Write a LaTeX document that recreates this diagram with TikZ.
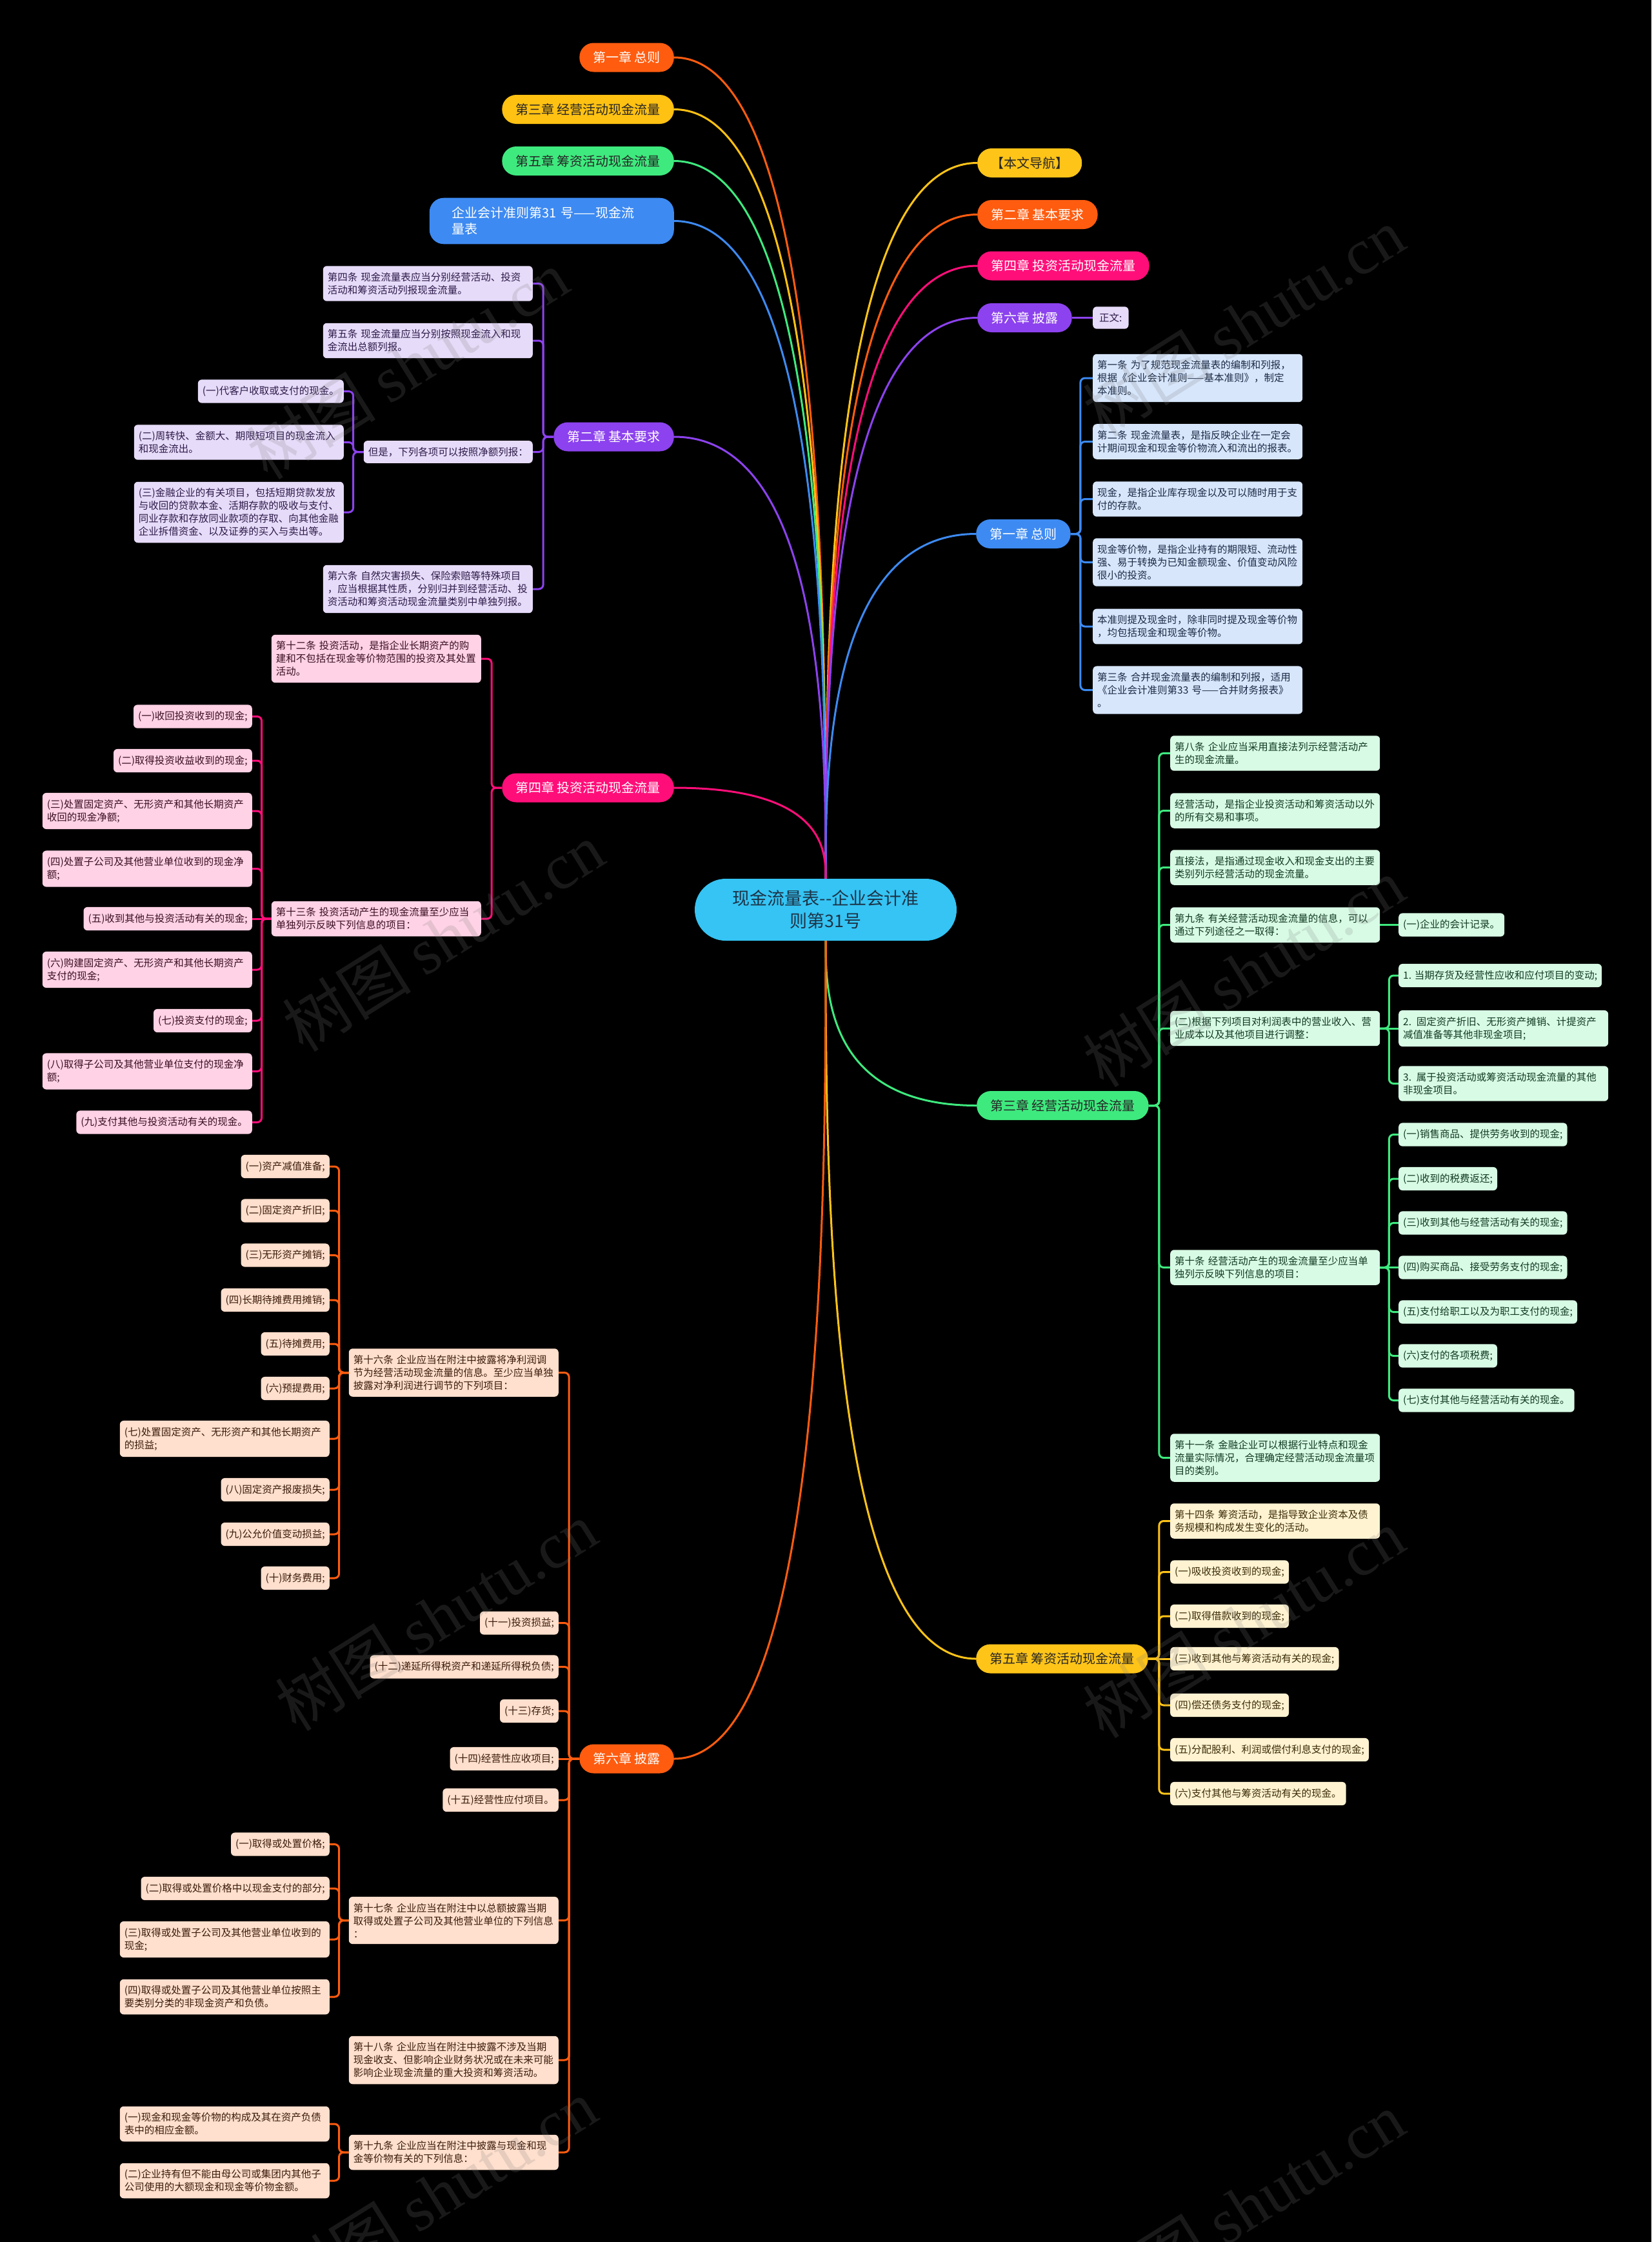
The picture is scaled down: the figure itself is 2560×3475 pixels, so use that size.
\documentclass[tikz,border=0pt]{standalone}
\usepackage{fontspec}
\setmainfont{Noto Sans CJK SC}
\newfontfamily\wmlatin{Liberation Serif}
\usetikzlibrary{calc}
\pgfdeclarelayer{bgl}
\pgfdeclarelayer{lnl}
\pgfsetlayers{bgl,lnl,main}
\definecolor{cOr}{HTML}{FF5C0F}
\definecolor{cAm}{HTML}{FFC112}
\definecolor{cGr}{HTML}{3EEA7E}
\definecolor{cBl}{HTML}{3D8AF2}
\definecolor{cYe}{HTML}{FFC418}
\definecolor{cPk}{HTML}{FF0E79}
\definecolor{cPu}{HTML}{8C42EE}
\definecolor{cRoot}{HTML}{35C4F4}
\definecolor{cRootT}{HTML}{1D3346}
\definecolor{lBl}{HTML}{D7E6FB}
\definecolor{lPu}{HTML}{E6DBF8}
\definecolor{lPk}{HTML}{FFD2E5}
\definecolor{lGr}{HTML}{D8FBE5}
\definecolor{lYe}{HTML}{FFF3D2}
\definecolor{lOr}{HTML}{FFDFCD}
\definecolor{tBl}{HTML}{1C2B45}
\definecolor{tPu}{HTML}{2D1B4A}
\definecolor{tPk}{HTML}{3B0F22}
\definecolor{tGr}{HTML}{123A22}
\definecolor{tYe}{HTML}{3B2C06}
\definecolor{tOr}{HTML}{3B1B0B}
\definecolor{tDark}{HTML}{262626}
\tikzset{
  chap/.style={rounded corners=22pt, inner xsep=21pt, inner ysep=0pt, minimum height=45pt, font=\fontsize{20}{24}\selectfont},
  leaf/.style={rounded corners=6pt, inner xsep=7pt, inner ysep=10pt, minimum height=34pt, font=\fontsize{15.5}{20}\selectfont, align=left},
  multi/.style={text width=311pt},
  lbl/.style={leaf, fill=lBl, text=tBl},
  lpu/.style={leaf, fill=lPu, text=tPu},
  lpk/.style={leaf, fill=lPk, text=tPk},
  lgr/.style={leaf, fill=lGr, text=tGr},
  lye/.style={leaf, fill=lYe, text=tYe},
  lor/.style={leaf, fill=lOr, text=tOr},
  rootbox/.style={fill=cRoot, text=cRootT, rounded corners=48pt, minimum width=406pt, minimum height=96pt, align=center, font=\fontsize{27}{35}\selectfont, inner sep=0pt},
  topblue/.style={fill=cBl, text=white, rounded corners=22pt, text width=309pt, inner xsep=35pt, inner ysep=14pt, align=left, font=\fontsize{20}{25}\selectfont},
  rl/.style={line width=3pt},
  kl/.style={line width=3pt, rounded corners=7pt},
  wm/.style={rotate=32, font=\fontsize{100}{100}\selectfont, text=gray, opacity=0.2},
}
\newcommand{\rlk}[3]{\draw[rl,draw=#1] (#2) .. controls (#2 -| #3) and ($(#3)!0.3!(#2 -| #3)$) .. (#3);}
\newcommand{\kL}[4]{\foreach \kid in {#4}{\draw[kl,draw=#1] (#2.west) -- ++(-#3,0) |- (\kid.east);}}
\newcommand{\kR}[4]{\foreach \kid in {#4}{\draw[kl,draw=#1] (#2.east) -- ++(#3,0) |- (\kid.west);}}
\begin{document}
\begin{tikzpicture}[x=1pt,y=-1pt]
\begin{pgfonlayer}{bgl}
\fill[black] (0,0) rectangle (2560,3475);
\end{pgfonlayer}
\useasboundingbox (0,0) rectangle (2560,3475);

% root
\node[rootbox] (R) at (1280,1410) {现金流量表-{}-企业会计准\\则第31号};

% top-left
\node[chap, fill=cOr, text=white, anchor=east] (t1) at (1045,89) {第一章 总则};
\node[chap, fill=cAm, text=tDark, anchor=east] (t3) at (1045,169.5) {第三章 经营活动现金流量};
\node[chap, fill=cGr, text=tDark, anchor=east] (t5) at (1045,249.5) {第五章 筹资活动现金流量};
\node[topblue, anchor=east] (tq) at (1045,342.5) {企业会计准则第31 号——现金流\\量表};
% top-right
\node[chap, fill=cYe, text=tDark, anchor=west] (tn) at (1515,252.5) {【本文导航】};
\node[chap, fill=cOr, text=white, anchor=west] (t2) at (1515,332.5) {第二章 基本要求};
\node[chap, fill=cPk, text=white, anchor=west] (t4) at (1515,412) {第四章 投资活动现金流量};
\node[chap, fill=cPu, text=white, anchor=west] (t6) at (1515,492.5) {第六章 披露};
\node[lpu, anchor=west, inner xsep=10pt] (zw) at (1694,492.5) {正文:};

% branch nodes
\node[chap, fill=cBl, text=white, anchor=west] (B1) at (1513,827.5) {第一章 总则};
\node[chap, fill=cPu, text=white, anchor=east] (B2) at (1045,677) {第二章 基本要求};
\node[chap, fill=cPk, text=white, anchor=east] (B4) at (1045,1221) {第四章 投资活动现金流量};
\node[chap, fill=cGr, text=tDark, anchor=west] (B3) at (1514,1713.5) {第三章 经营活动现金流量};
\node[chap, fill=cYe, text=tDark, anchor=west] (B5) at (1513,2571) {第五章 筹资活动现金流量};
\node[chap, fill=cOr, text=white, anchor=east] (B6) at (1045,2726) {第六章 披露};

% chapter 1 children
\node[lbl, multi, anchor=west] (a1) at (1694,586) {第一条 为了规范现金流量表的编制和列报，\\根据《企业会计准则——基本准则》，制定\\本准则。};
\node[lbl, multi, anchor=west] (a2) at (1694,684.5) {第二条 现金流量表，是指反映企业在一定会\\计期间现金和现金等价物流入和流出的报表。};
\node[lbl, multi, anchor=west] (a3) at (1694,773.5) {现金，是指企业库存现金以及可以随时用于支\\付的存款。};
\node[lbl, multi, anchor=west] (a4) at (1694,871.5) {现金等价物，是指企业持有的期限短、流动性\\强、易于转换为已知金额现金、价值变动风险\\很小的投资。};
\node[lbl, multi, anchor=west] (a5) at (1694,971) {本准则提及现金时，除非同时提及现金等价物\\，均包括现金和现金等价物。};
\node[lbl, multi, anchor=west] (a6) at (1694,1069.5) {第三条 合并现金流量表的编制和列报，适用\\《企业会计准则第33 号——合并财务报表》\\。};

% chapter 2 children
\node[lpu, multi, anchor=east] (b1) at (826,439.5) {第四条 现金流量表应当分别经营活动、投资\\活动和筹资活动列报现金流量。};
\node[lpu, multi, anchor=east] (b2) at (826,528) {第五条 现金流量应当分别按照现金流入和现\\金流出总额列报。};
\node[lpu, anchor=east] (b3) at (826,700.5) {但是，下列各项可以按照净额列报：};
\node[lpu, anchor=east] (b31) at (533,606.5) {(一)代客户收取或支付的现金。};
\node[lpu, multi, anchor=east] (b32) at (533,685.5) {(二)周转快、金额大、期限短项目的现金流入\\和现金流出。};
\node[lpu, multi, anchor=east] (b33) at (533,794) {(三)金融企业的有关项目，包括短期贷款发放\\与收回的贷款本金、活期存款的吸收与支付、\\同业存款和存放同业款项的存取、向其他金融\\企业拆借资金、以及证券的买入与卖出等。};
\node[lpu, multi, anchor=east] (b4) at (826,913) {第六条 自然灾害损失、保险索赔等特殊项目\\，应当根据其性质，分别归并到经营活动、投\\资活动和筹资活动现金流量类别中单独列报。};

% chapter 4 children
\node[lpk, multi, anchor=east] (d1) at (746,1021) {第十二条 投资活动，是指企业长期资产的购\\建和不包括在现金等价物范围的投资及其处置\\活动。};
\node[lpk, multi, anchor=east] (d2) at (746,1424) {第十三条 投资活动产生的现金流量至少应当\\单独列示反映下列信息的项目：};
\node[lpk, anchor=east] (e1) at (391,1110.5) {(一)收回投资收到的现金;};
\node[lpk, anchor=east] (e2) at (391,1179) {(二)取得投资收益收到的现金;};
\node[lpk, multi, anchor=east] (e3) at (391,1257) {(三)处置固定资产、无形资产和其他长期资产\\收回的现金净额;};
\node[lpk, multi, anchor=east] (e4) at (391,1346.5) {(四)处置子公司及其他营业单位收到的现金净\\额;};
\node[lpk, anchor=east] (e5) at (391,1424) {(五)收到其他与投资活动有关的现金;};
\node[lpk, multi, anchor=east] (e6) at (391,1503) {(六)购建固定资产、无形资产和其他长期资产\\支付的现金;};
\node[lpk, anchor=east] (e7) at (391,1582) {(七)投资支付的现金;};
\node[lpk, multi, anchor=east] (e8) at (391,1660.5) {(八)取得子公司及其他营业单位支付的现金净\\额;};
\node[lpk, anchor=east] (e9) at (391,1739.5) {(九)支付其他与投资活动有关的现金。};

% chapter 3 children
\node[lgr, multi, anchor=west] (g1) at (1814,1167.5) {第八条 企业应当采用直接法列示经营活动产\\生的现金流量。};
\node[lgr, multi, anchor=west] (g2) at (1814,1256.5) {经营活动，是指企业投资活动和筹资活动以外\\的所有交易和事项。};
\node[lgr, multi, anchor=west] (g3) at (1814,1344.5) {直接法，是指通过现金收入和现金支出的主要\\类别列示经营活动的现金流量。};
\node[lgr, multi, anchor=west] (g4) at (1814,1433.5) {第九条 有关经营活动现金流量的信息，可以\\通过下列途径之一取得：};
\node[lgr, anchor=west] (g41) at (2168,1433.5) {(一)企业的会计记录。};
\node[lgr, multi, anchor=west] (g5) at (1814,1594) {(二)根据下列项目对利润表中的营业收入、营\\业成本以及其他项目进行调整：};
\node[lgr, anchor=west] (g51) at (2168,1512) {1. 当期存货及经营性应收和应付项目的变动;};
\node[lgr, multi, anchor=west] (g52) at (2168,1594) {2. 固定资产折旧、无形资产摊销、计提资产\\减值准备等其他非现金项目;};
\node[lgr, multi, anchor=west] (g53) at (2168,1679.5) {3. 属于投资活动或筹资活动现金流量的其他\\非现金项目。};
\node[lgr, multi, anchor=west] (g6) at (1814,1964.5) {第十条 经营活动产生的现金流量至少应当单\\独列示反映下列信息的项目：};
\node[lgr, anchor=west] (h1) at (2168,1758.5) {(一)销售商品、提供劳务收到的现金;};
\node[lgr, anchor=west] (h2) at (2168,1827) {(二)收到的税费返还;};
\node[lgr, anchor=west] (h3) at (2168,1895.5) {(三)收到其他与经营活动有关的现金;};
\node[lgr, anchor=west] (h4) at (2168,1964.5) {(四)购买商品、接受劳务支付的现金;};
\node[lgr, anchor=west] (h5) at (2168,2033.5) {(五)支付给职工以及为职工支付的现金;};
\node[lgr, anchor=west] (h6) at (2168,2101.5) {(六)支付的各项税费;};
\node[lgr, anchor=west] (h7) at (2168,2170.5) {(七)支付其他与经营活动有关的现金。};
\node[lgr, multi, anchor=west] (g7) at (1814,2259.5) {第十一条 金融企业可以根据行业特点和现金\\流量实际情况，合理确定经营活动现金流量项\\目的类别。};

% chapter 5 children
\node[lye, multi, anchor=west] (k1) at (1814,2357.5) {第十四条 筹资活动，是指导致企业资本及债\\务规模和构成发生变化的活动。};
\node[lye, anchor=west] (k2) at (1814,2436.5) {(一)吸收投资收到的现金;};
\node[lye, anchor=west] (k3) at (1814,2505) {(二)取得借款收到的现金;};
\node[lye, anchor=west] (k4) at (1814,2571) {(三)收到其他与筹资活动有关的现金;};
\node[lye, anchor=west] (k5) at (1814,2643) {(四)偿还债务支付的现金;};
\node[lye, anchor=west] (k6) at (1814,2712) {(五)分配股利、利润或偿付利息支付的现金;};
\node[lye, anchor=west] (k7) at (1814,2780) {(六)支付其他与筹资活动有关的现金。};

% chapter 6 children
\node[lor, multi, anchor=east] (m1) at (866,2127.5) {第十六条 企业应当在附注中披露将净利润调\\节为经营活动现金流量的信息。至少应当单独\\披露对净利润进行调节的下列项目：};
\node[lor, anchor=east] (n1) at (511,1808) {(一)资产减值准备;};
\node[lor, anchor=east] (n2) at (511,1876.5) {(二)固定资产折旧;};
\node[lor, anchor=east] (n3) at (511,1945.5) {(三)无形资产摊销;};
\node[lor, anchor=east] (n4) at (511,2015) {(四)长期待摊费用摊销;};
\node[lor, anchor=east] (n5) at (511,2083) {(五)待摊费用;};
\node[lor, anchor=east] (n6) at (511,2152) {(六)预提费用;};
\node[lor, multi, anchor=east] (n7) at (511,2230) {(七)处置固定资产、无形资产和其他长期资产\\的损益;};
\node[lor, anchor=east] (n8) at (511,2309) {(八)固定资产报废损失;};
\node[lor, anchor=east] (n9) at (511,2378) {(九)公允价值变动损益;};
\node[lor, anchor=east] (n10) at (511,2446) {(十)财务费用;};
\node[lor, anchor=east] (m2) at (866,2515.5) {(十一)投资损益;};
\node[lor, anchor=east] (m3) at (866,2583.5) {(十二)递延所得税资产和递延所得税负债;};
\node[lor, anchor=east] (m4) at (866,2652) {(十三)存货;};
\node[lor, anchor=east] (m5) at (866,2726) {(十四)经营性应收项目;};
\node[lor, anchor=east] (m6) at (866,2790) {(十五)经营性应付项目。};
\node[lor, multi, anchor=east] (m7) at (866,2976.5) {第十七条 企业应当在附注中以总额披露当期\\取得或处置子公司及其他营业单位的下列信息\\：};
\node[lor, anchor=east] (p1) at (511,2858.5) {(一)取得或处置价格;};
\node[lor, anchor=east] (p2) at (511,2927) {(二)取得或处置价格中以现金支付的部分;};
\node[lor, multi, anchor=east] (p3) at (511,3006) {(三)取得或处置子公司及其他营业单位收到的\\现金;};
\node[lor, multi, anchor=east] (p4) at (511,3095) {(四)取得或处置子公司及其他营业单位按照主\\要类别分类的非现金资产和负债。};
\node[lor, multi, anchor=east] (m8) at (866,3193) {第十八条 企业应当在附注中披露不涉及当期\\现金收支、但影响企业财务状况或在未来可能\\影响企业现金流量的重大投资和筹资活动。};
\node[lor, multi, anchor=east] (m9) at (866,3336) {第十九条 企业应当在附注中披露与现金和现\\金等价物有关的下列信息：};
\node[lor, multi, anchor=east] (q1) at (511,3292) {(一)现金和现金等价物的构成及其在资产负债\\表中的相应金额。};
\node[lor, multi, anchor=east] (q2) at (511,3380) {(二)企业持有但不能由母公司或集团内其他子\\公司使用的大额现金和现金等价物金额。};

\begin{pgfonlayer}{lnl}
% root links
\rlk{cOr}{t1.east}{R.north}
\rlk{cAm}{t3.east}{R.north}
\rlk{cGr}{t5.east}{R.north}
\rlk{cBl}{tq.east}{R.north}
\rlk{cYe}{tn.west}{R.north}
\rlk{cOr}{t2.west}{R.north}
\rlk{cPk}{t4.west}{R.north}
\rlk{cPu}{t6.west}{R.north}
\rlk{cBl}{B1.west}{R.north}
\rlk{cPu}{B2.east}{R.north}
\rlk{cPk}{B4.east}{R.north}
\rlk{cGr}{B3.west}{R.south}
\rlk{cYe}{B5.west}{R.south}
\rlk{cOr}{B6.east}{R.south}
\draw[rl,draw=cPu] (t6.east) -- (zw.west);
% branch links
\kR{cBl}{B1}{15}{a1,a2,a3,a4,a5,a6}
\kL{cPu}{B2}{16}{b1,b2,b3,b4}
\kL{cPu}{b3}{16}{b31,b32,b33}
\kL{cPk}{B4}{16}{d1,d2}
\kL{cPk}{d2}{15}{e1,e2,e3,e4,e6,e7,e8,e9}
\draw[rl,draw=cPk] (d2.west) -- (e5.east);
\kR{cGr}{B3}{16}{g1,g2,g3,g4,g5,g6,g7}
\draw[rl,draw=cGr] (g4.east) -- (g41.west);
\kR{cGr}{g5}{14}{g51,g53}
\draw[rl,draw=cGr] (g5.east) -- (g52.west);
\kR{cGr}{g6}{14}{h1,h2,h3,h5,h6,h7}
\draw[rl,draw=cGr] (g6.east) -- (h4.west);
\kR{cYe}{B5}{17}{k1,k2,k3,k5,k6,k7}
\draw[rl,draw=cYe] (B5.east) -- (k4.west);
\kL{cOr}{B6}{16}{m1,m2,m3,m4,m6,m7,m8,m9}
\draw[rl,draw=cOr] (B6.west) -- (m5.east);
\kL{cOr}{m1}{15}{n1,n2,n3,n4,n5,n6,n7,n8,n9,n10}
\kL{cOr}{m7}{15}{p1,p2,p3,p4}
\kL{cOr}{m9}{15}{q1,q2}
\end{pgfonlayer}

% watermarks
\foreach \wx/\wy [count=\wi] in {632/565, 1928/499, 687/1452, 1928/1507, 676/2505, 1928/2516, 676/3400, 1928/3420}
  \node[wm] (wm\wi) at (\wx,\wy) {树图 {\wmlatin shutu.cn}};
\end{tikzpicture}
\end{document}
